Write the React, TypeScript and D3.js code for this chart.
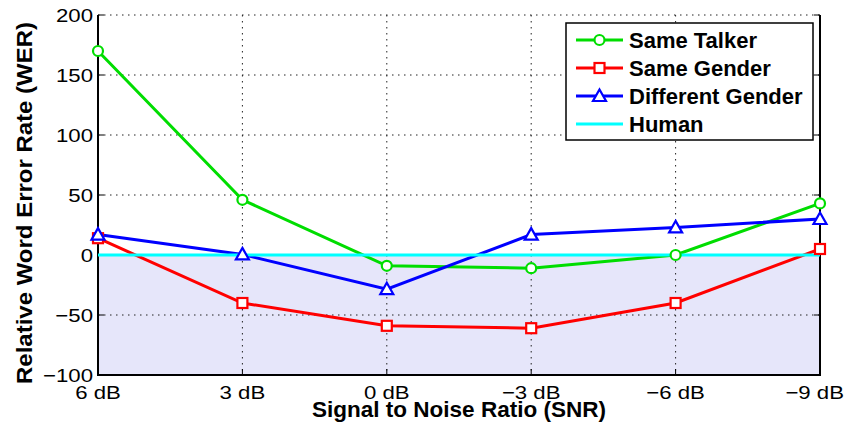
import React from "react";
import * as d3 from "d3";

const snrLabels = ["6 dB", "3 dB", "0 dB", "\u22123 dB", "\u22126 dB", "\u22129 dB"];
const yTicks = [-100, -50, 0, 50, 100, 150, 200];

const sameTalker = [170, 46, -9, -11, 0, 43];
const sameGender = [14, -40, -59, -61, -40, 5];
const differentGender = [17, 0.5, -28.5, 17, 23, 30];
const human = [0, 0, 0, 0, 0, 0];

const seriesNames = ["Same Talker", "Same Gender", "Different Gender", "Human"];
const seriesColors = ["#00dd00", "#ff0000", "#0000ff", "#00ffff"];
const seriesMarkers = ["circle", "square", "triangle", "none"];

const W = 847;
const H = 430;
const margin = { top: 15, right: 27, bottom: 55, left: 98 };

const fmt = (v: number) => (v < 0 ? "\u2212" + Math.abs(v) : String(v));

function Marker({ kind, x, y, color }: { kind: string; x: number; y: number; color: string }) {
  if (kind === "circle")
    return <circle cx={x} cy={y} r={5} fill="white" stroke={color} strokeWidth={2.2} />;
  if (kind === "square")
    return <rect x={x - 5} y={y - 5} width={10} height={10} fill="white" stroke={color} strokeWidth={2.2} />;
  if (kind === "triangle")
    return (
      <path
        d={`M${x},${y - 6.5}L${x + 6.5},${y + 5}L${x - 6.5},${y + 5}Z`}
        fill="white"
        stroke={color}
        strokeWidth={2.2}
      />
    );
  return null;
}

export default function App() {
  const x = d3
    .scalePoint<string>()
    .domain(snrLabels)
    .range([margin.left, W - margin.right]);
  const y = d3.scaleLinear().domain([-100, 200]).range([H - margin.bottom, margin.top]);

  const series = [sameTalker, sameGender, differentGender, human];
  const line = d3
    .line<number>()
    .x((_, i) => x(snrLabels[i]) as number)
    .y((d) => y(d));

  const left = margin.left;
  const right = W - margin.right;
  const top = margin.top;
  const bottom = H - margin.bottom;

  const lgX = 566;
  const lgY = 23;
  const fs = 22;
  const tickFs = 18.5;
  const stretch = 1.2; // tick labels in the original are wide

  return (
    <svg
      width={W}
      height={H}
      style={{ position: "absolute", left: 0, top: 0, background: "white" }}
      fontFamily="'Liberation Sans', Arial, sans-serif"
    >
      {/* shaded area below zero */}
      <rect x={left} y={y(0)} width={right - left} height={bottom - y(0)} fill="#e6e6fa" />

      {/* grid */}
      {yTicks.map((t) => (
        <line
          key={"gy" + t}
          x1={left}
          x2={right}
          y1={y(t)}
          y2={y(t)}
          stroke="#222"
          strokeWidth={1}
          strokeDasharray="1.5,4.5"
        />
      ))}
      {snrLabels.map((s) => (
        <line
          key={"gx" + s}
          x1={x(s)}
          x2={x(s)}
          y1={top}
          y2={bottom}
          stroke="#222"
          strokeWidth={1}
          strokeDasharray="1.5,4.5"
        />
      ))}

      {/* ticks inward */}
      {yTicks.map((t) => (
        <g key={"ty" + t}>
          <line x1={left} x2={left + 6} y1={y(t)} y2={y(t)} stroke="black" />
          <line x1={right} x2={right - 6} y1={y(t)} y2={y(t)} stroke="black" />
        </g>
      ))}
      {snrLabels.map((s) => (
        <line key={"tx" + s} x1={x(s)} x2={x(s)} y1={bottom} y2={bottom - 6} stroke="black" />
      ))}

      {/* axes box (no solid top) */}
      <path
        d={`M${left},${top}V${bottom}H${right}V${top}`}
        fill="none"
        stroke="black"
        strokeWidth={2}
      />

      {/* lines */}
      {series.map((data, k) => (
        <path
          key={"l" + k}
          d={line(data) as string}
          fill="none"
          stroke={seriesColors[k]}
          strokeWidth={3}
        />
      ))}
      {series.map((data, k) =>
        data.map((v, i) => (
          <Marker
            key={"m" + k + "-" + i}
            kind={seriesMarkers[k]}
            x={x(snrLabels[i]) as number}
            y={y(v)}
            color={seriesColors[k]}
          />
        ))
      )}

      {/* tick labels */}
      {yTicks.map((t) => (
        <text
          key={"yl" + t}
          transform={`translate(${left - 5},${y(t)}) scale(${stretch},1)`}
          dy="0.36em"
          textAnchor="end"
          fontSize={tickFs}
          fill="black"
        >
          {fmt(t)}
        </text>
      ))}
      {snrLabels.map((s, i) => {
        const last = i === snrLabels.length - 1;
        const px = last ? W - 3 : (x(s) as number);
        return (
          <text
            key={"xl" + s}
            transform={`translate(${px},${bottom + 24}) scale(${stretch},1)`}
            textAnchor={last ? "end" : "middle"}
            fontSize={tickFs}
            fill="black"
          >
            {s}
          </text>
        );
      })}

      {/* axis titles */}
      <text
        x={(left + right) / 2}
        y={417}
        textAnchor="middle"
        fontSize={fs}
        fontWeight="bold"
        fill="black"
        textLength={294}
        lengthAdjust="spacingAndGlyphs"
      >
        Signal to Noise Ratio (SNR)
      </text>
      <text
        transform={`translate(32,203) rotate(-90)`}
        textAnchor="middle"
        fontSize={fs}
        fontWeight="bold"
        fill="black"
        textLength={362}
        lengthAdjust="spacingAndGlyphs"
      >
        Relative Word Error Rate (WER)
      </text>

      {/* legend */}
      <rect x={lgX} y={lgY} width={247} height={117} fill="white" stroke="black" strokeWidth={1.5} />
      {seriesNames.map((n, k) => {
        const cy = lgY + 17 + k * 28;
        return (
          <g key={"lg" + k}>
            <line x1={lgX + 10} x2={lgX + 57} y1={cy} y2={cy} stroke={seriesColors[k]} strokeWidth={3} />
            <Marker kind={seriesMarkers[k]} x={lgX + 33.5} y={cy} color={seriesColors[k]} />
            <text x={lgX + 63} y={cy} dy="0.36em" fontSize={fs} fontWeight="bold" fill="black">
              {n}
            </text>
          </g>
        );
      })}
    </svg>
  );
}
